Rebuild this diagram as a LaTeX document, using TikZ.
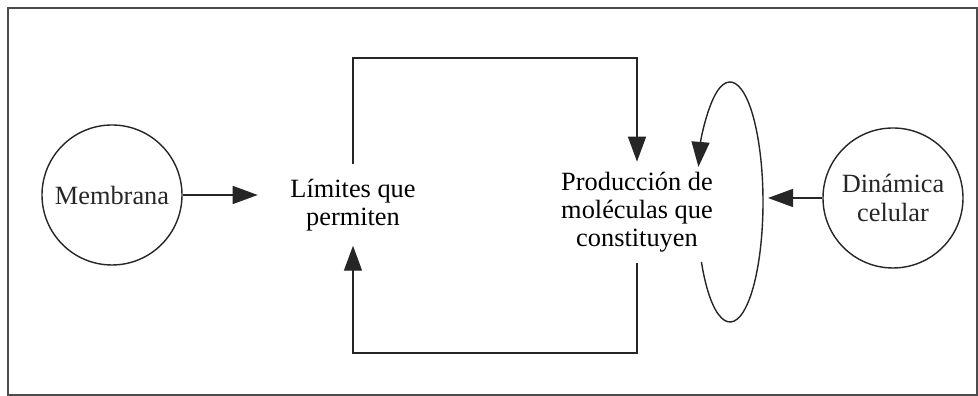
\documentclass[tikz,border=0pt]{standalone}
\usepackage{fontspec}
\setmainfont{Liberation Serif}
\usetikzlibrary{positioning,arrows.meta}

\begin{document}
\begin{tikzpicture}[font=\fontsize{7.5}{8}\selectfont,
  arr/.style={-{Triangle[length=2.5mm,width=1.8mm]},black!85},
  circ/.style={draw,black!85,circle,minimum size=1.4cm,inner sep=0pt,align=center},
  txt/.style={align=center,inner xsep=0pt}]
\useasboundingbox (0,0) rectangle (9.78,3.96);
\draw[black!70,line width=0.6pt] (0.08,0.01) rectangle (9.77,3.88);

\node[circ] (memb) at (1.12,2.01) {Membrana};
\node[txt,inner ysep=0.14cm] (lim) at (3.53,1.91) {Límites que\\permiten};
\node[txt,inner ysep=0.10cm] (prod) at (6.37,1.835) {Producción de\\moléculas que\\constituyen};
\node[circ] (din) at (8.93,1.98) {Dinámica\\celular};
\coordinate (loop) at (7.30,1.94);
\coordinate (tipd) at (7.68,1.98);

\draw[arr,shorten >=0.32cm] (memb) -- (memb -| lim.west);
\draw[arr] (lim.north) |- (3.53,3.38) -| (prod.north);
\draw[arr] (prod.south) |- (3.53,0.43) -- (lim.south);
\draw[arr] ([shift={(210:0.33 and 1.20)}]loop) arc[start angle=210,end angle=523,x radius=0.33,y radius=1.20];
\draw[arr] (din.west) -- (tipd);

\end{tikzpicture}
\end{document}
